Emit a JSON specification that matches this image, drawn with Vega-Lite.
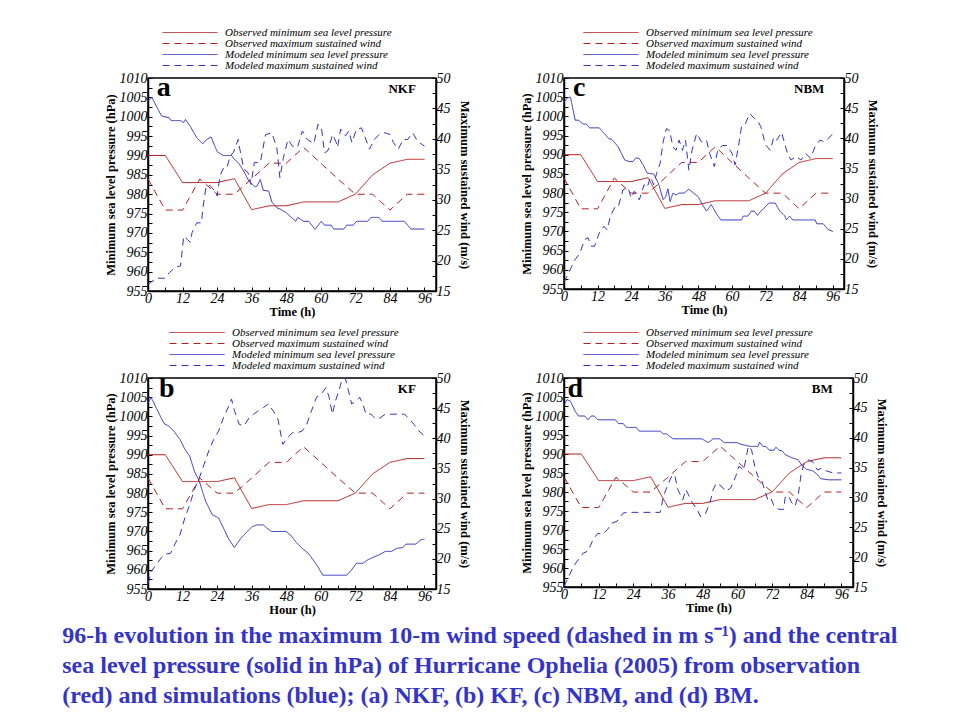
{
"$schema":"https://vega.github.io/schema/vega-lite/v6.json",
"background":"white",
"padding":{"left":62,"top":25,"right":5,"bottom":5},
"title":{"text":["96-h evolution in the maximum 10-m wind speed (dashed in m s⁻¹) and the central","sea level pressure (solid in hPa) of Hurricane Ophelia (2005) from observation","(red) and simulations (blue); (a) NKF, (b) KF, (c) NBM, and (d) BM."],"orient":"bottom","anchor":"start","frame":"bounds","dx":-41,"offset":8,"font":"Liberation Serif","fontSize":24,"fontWeight":"bold","color":"#3434c8","lineHeight":30,"baseline":"top"},
"datasets":{"all":[
{"p":"o","s":"OP","t":0,"v":990},{"p":"o","s":"OP","t":6,"v":990},{"p":"o","s":"OP","t":12,"v":983},{"p":"o","s":"OP","t":18,"v":983},{"p":"o","s":"OP","t":24,"v":983},{"p":"o","s":"OP","t":30,"v":984},{"p":"o","s":"OP","t":36,"v":976},{"p":"o","s":"OP","t":42,"v":977},{"p":"o","s":"OP","t":48,"v":977},{"p":"o","s":"OP","t":54,"v":978},{"p":"o","s":"OP","t":60,"v":978},{"p":"o","s":"OP","t":66,"v":978},{"p":"o","s":"OP","t":72,"v":980},{"p":"o","s":"OP","t":78,"v":985},{"p":"o","s":"OP","t":84,"v":988},{"p":"o","s":"OP","t":90,"v":989},{"p":"o","s":"OP","t":96,"v":989},
{"p":"o","s":"OW","t":0,"v":33.4},{"p":"o","s":"OW","t":6,"v":28.3},{"p":"o","s":"OW","t":12,"v":28.3},{"p":"o","s":"OW","t":18,"v":33.4},{"p":"o","s":"OW","t":24,"v":30.9},{"p":"o","s":"OW","t":30,"v":30.9},{"p":"o","s":"OW","t":36,"v":33.4},{"p":"o","s":"OW","t":42,"v":36},{"p":"o","s":"OW","t":48,"v":36},{"p":"o","s":"OW","t":54,"v":38.6},{"p":"o","s":"OW","t":60,"v":36},{"p":"o","s":"OW","t":66,"v":33.4},{"p":"o","s":"OW","t":72,"v":30.9},{"p":"o","s":"OW","t":78,"v":30.9},{"p":"o","s":"OW","t":84,"v":28.3},{"p":"o","s":"OW","t":90,"v":30.9},{"p":"o","s":"OW","t":96,"v":30.9},
{"p":"a","s":"MP","t":0,"v":1004},{"p":"a","s":"MP","t":1.3,"v":1005},{"p":"a","s":"MP","t":4.7,"v":1000.2},{"p":"a","s":"MP","t":7.4,"v":999.7},{"p":"a","s":"MP","t":8,"v":999},{"p":"a","s":"MP","t":11.3,"v":999},{"p":"a","s":"MP","t":12.4,"v":998.5},{"p":"a","s":"MP","t":13,"v":999.3},{"p":"a","s":"MP","t":14.7,"v":997.5},{"p":"a","s":"MP","t":16.9,"v":994.6},{"p":"a","s":"MP","t":19,"v":993},{"p":"a","s":"MP","t":20.2,"v":994},{"p":"a","s":"MP","t":21.9,"v":994.8},{"p":"a","s":"MP","t":24,"v":991},{"p":"a","s":"MP","t":26,"v":990},{"p":"a","s":"MP","t":29,"v":990},{"p":"a","s":"MP","t":30,"v":989},{"p":"a","s":"MP","t":31.5,"v":988},{"p":"a","s":"MP","t":33.6,"v":985.5},{"p":"a","s":"MP","t":35,"v":983.4},{"p":"a","s":"MP","t":37,"v":982},{"p":"a","s":"MP","t":37.8,"v":982},{"p":"a","s":"MP","t":39,"v":983.8},{"p":"a","s":"MP","t":40,"v":981},{"p":"a","s":"MP","t":41.9,"v":980.8},{"p":"a","s":"MP","t":43,"v":978},{"p":"a","s":"MP","t":44.7,"v":976.5},{"p":"a","s":"MP","t":46.3,"v":976},{"p":"a","s":"MP","t":48,"v":975.2},{"p":"a","s":"MP","t":51.3,"v":973},{"p":"a","s":"MP","t":52,"v":974},{"p":"a","s":"MP","t":54,"v":973},{"p":"a","s":"MP","t":55.8,"v":973},{"p":"a","s":"MP","t":58,"v":970.9},{"p":"a","s":"MP","t":60.2,"v":973},{"p":"a","s":"MP","t":61.3,"v":972},{"p":"a","s":"MP","t":63.6,"v":972},{"p":"a","s":"MP","t":64.5,"v":971},{"p":"a","s":"MP","t":68,"v":971},{"p":"a","s":"MP","t":69,"v":972},{"p":"a","s":"MP","t":71.3,"v":972},{"p":"a","s":"MP","t":72.4,"v":973},{"p":"a","s":"MP","t":76.3,"v":973},{"p":"a","s":"MP","t":77.4,"v":974},{"p":"a","s":"MP","t":80.2,"v":974},{"p":"a","s":"MP","t":81.3,"v":973},{"p":"a","s":"MP","t":89,"v":973},{"p":"a","s":"MP","t":91.3,"v":971},{"p":"a","s":"MP","t":96,"v":971},
{"p":"a","s":"MW","t":0,"v":16.1},{"p":"a","s":"MW","t":3,"v":17.1},{"p":"a","s":"MW","t":5.8,"v":17.1},{"p":"a","s":"MW","t":7.4,"v":18},{"p":"a","s":"MW","t":9.7,"v":19},{"p":"a","s":"MW","t":11.3,"v":19.1},{"p":"a","s":"MW","t":12.4,"v":24},{"p":"a","s":"MW","t":13.6,"v":23.5},{"p":"a","s":"MW","t":14.7,"v":23},{"p":"a","s":"MW","t":15.3,"v":24.6},{"p":"a","s":"MW","t":16.9,"v":26.2},{"p":"a","s":"MW","t":18.6,"v":26.2},{"p":"a","s":"MW","t":19,"v":28.4},{"p":"a","s":"MW","t":20.2,"v":32.3},{"p":"a","s":"MW","t":21.6,"v":32.3},{"p":"a","s":"MW","t":23.6,"v":31.2},{"p":"a","s":"MW","t":24,"v":30.6},{"p":"a","s":"MW","t":25,"v":33.9},{"p":"a","s":"MW","t":26.3,"v":35.3},{"p":"a","s":"MW","t":27.4,"v":35.3},{"p":"a","s":"MW","t":28.6,"v":37.2},{"p":"a","s":"MW","t":29.7,"v":37.8},{"p":"a","s":"MW","t":31.3,"v":39.9},{"p":"a","s":"MW","t":31.9,"v":38.3},{"p":"a","s":"MW","t":33.3,"v":35},{"p":"a","s":"MW","t":34.7,"v":34.5},{"p":"a","s":"MW","t":35.8,"v":32.5},{"p":"a","s":"MW","t":36.9,"v":36.1},{"p":"a","s":"MW","t":39,"v":36.1},{"p":"a","s":"MW","t":40.8,"v":40.7},{"p":"a","s":"MW","t":43,"v":41},{"p":"a","s":"MW","t":44.7,"v":38.6},{"p":"a","s":"MW","t":45.8,"v":33.6},{"p":"a","s":"MW","t":47,"v":36.9},{"p":"a","s":"MW","t":48.6,"v":39.9},{"p":"a","s":"MW","t":50.2,"v":38.8},{"p":"a","s":"MW","t":51.9,"v":38.6},{"p":"a","s":"MW","t":53.6,"v":41.3},{"p":"a","s":"MW","t":55.3,"v":39.9},{"p":"a","s":"MW","t":57.6,"v":39.2},{"p":"a","s":"MW","t":59,"v":42.4},{"p":"a","s":"MW","t":60.2,"v":41.9},{"p":"a","s":"MW","t":61.3,"v":37.7},{"p":"a","s":"MW","t":62.4,"v":38},{"p":"a","s":"MW","t":64.1,"v":40.7},{"p":"a","s":"MW","t":65.2,"v":39.6},{"p":"a","s":"MW","t":65.8,"v":38.6},{"p":"a","s":"MW","t":66.9,"v":41.6},{"p":"a","s":"MW","t":68.6,"v":40.5},{"p":"a","s":"MW","t":69.7,"v":41.3},{"p":"a","s":"MW","t":70.8,"v":39.4},{"p":"a","s":"MW","t":72.4,"v":41.6},{"p":"a","s":"MW","t":74.1,"v":41.8},{"p":"a","s":"MW","t":75.2,"v":40.5},{"p":"a","s":"MW","t":76.9,"v":38.3},{"p":"a","s":"MW","t":78.6,"v":39.9},{"p":"a","s":"MW","t":80.2,"v":40.7},{"p":"a","s":"MW","t":82.4,"v":41},{"p":"a","s":"MW","t":84.1,"v":40.7},{"p":"a","s":"MW","t":85.2,"v":39.4},{"p":"a","s":"MW","t":86.9,"v":38.3},{"p":"a","s":"MW","t":88.6,"v":39.9},{"p":"a","s":"MW","t":90.2,"v":39.9},{"p":"a","s":"MW","t":91.9,"v":41},{"p":"a","s":"MW","t":93.6,"v":39.6},{"p":"a","s":"MW","t":96,"v":38.8},
{"p":"c","s":"MP","t":0,"v":1003.7},{"p":"c","s":"MP","t":1.1,"v":1004.8},{"p":"c","s":"MP","t":2.3,"v":1005},{"p":"c","s":"MP","t":4,"v":999},{"p":"c","s":"MP","t":5.1,"v":999},{"p":"c","s":"MP","t":6.9,"v":998},{"p":"c","s":"MP","t":8,"v":998},{"p":"c","s":"MP","t":9.1,"v":997},{"p":"c","s":"MP","t":12.6,"v":997},{"p":"c","s":"MP","t":16,"v":994.2},{"p":"c","s":"MP","t":17.1,"v":994},{"p":"c","s":"MP","t":19.4,"v":992},{"p":"c","s":"MP","t":21.7,"v":988.6},{"p":"c","s":"MP","t":23.4,"v":988.2},{"p":"c","s":"MP","t":24.6,"v":988.2},{"p":"c","s":"MP","t":25.7,"v":989.2},{"p":"c","s":"MP","t":26.9,"v":989},{"p":"c","s":"MP","t":28.6,"v":986.9},{"p":"c","s":"MP","t":29.7,"v":985.2},{"p":"c","s":"MP","t":32,"v":985},{"p":"c","s":"MP","t":33.7,"v":982.6},{"p":"c","s":"MP","t":35.4,"v":978.3},{"p":"c","s":"MP","t":36.3,"v":979},{"p":"c","s":"MP","t":37.1,"v":981.1},{"p":"c","s":"MP","t":37.9,"v":977.8},{"p":"c","s":"MP","t":38.9,"v":980},{"p":"c","s":"MP","t":40,"v":979.5},{"p":"c","s":"MP","t":41.1,"v":980},{"p":"c","s":"MP","t":42.9,"v":980},{"p":"c","s":"MP","t":44.6,"v":981},{"p":"c","s":"MP","t":46.3,"v":980},{"p":"c","s":"MP","t":48,"v":979},{"p":"c","s":"MP","t":49.1,"v":977.4},{"p":"c","s":"MP","t":50.9,"v":975.3},{"p":"c","s":"MP","t":52.6,"v":977},{"p":"c","s":"MP","t":54.3,"v":974.8},{"p":"c","s":"MP","t":56,"v":973},{"p":"c","s":"MP","t":63.4,"v":973},{"p":"c","s":"MP","t":64,"v":974},{"p":"c","s":"MP","t":65.7,"v":974},{"p":"c","s":"MP","t":66.9,"v":975.3},{"p":"c","s":"MP","t":68,"v":975.3},{"p":"c","s":"MP","t":69.1,"v":974.2},{"p":"c","s":"MP","t":70.3,"v":975.3},{"p":"c","s":"MP","t":71.4,"v":976},{"p":"c","s":"MP","t":73.1,"v":977.4},{"p":"c","s":"MP","t":75.4,"v":977.4},{"p":"c","s":"MP","t":77.1,"v":975.3},{"p":"c","s":"MP","t":78.9,"v":974},{"p":"c","s":"MP","t":79.4,"v":973},{"p":"c","s":"MP","t":80.6,"v":974},{"p":"c","s":"MP","t":81.7,"v":973},{"p":"c","s":"MP","t":89.7,"v":973},{"p":"c","s":"MP","t":90.3,"v":972},{"p":"c","s":"MP","t":92.6,"v":972},{"p":"c","s":"MP","t":94.3,"v":970.5},{"p":"c","s":"MP","t":96,"v":970},
{"p":"c","s":"MW","t":0,"v":16.1},{"p":"c","s":"MW","t":2.3,"v":18.3},{"p":"c","s":"MW","t":4,"v":19.9},{"p":"c","s":"MW","t":5.7,"v":21},{"p":"c","s":"MW","t":7.4,"v":23.2},{"p":"c","s":"MW","t":8.6,"v":23.5},{"p":"c","s":"MW","t":9.7,"v":22.1},{"p":"c","s":"MW","t":10.9,"v":22.1},{"p":"c","s":"MW","t":12.6,"v":24.3},{"p":"c","s":"MW","t":14.3,"v":25.4},{"p":"c","s":"MW","t":15.4,"v":24.8},{"p":"c","s":"MW","t":16.6,"v":27.1},{"p":"c","s":"MW","t":18.3,"v":28.7},{"p":"c","s":"MW","t":19.4,"v":28.7},{"p":"c","s":"MW","t":21.1,"v":31.5},{"p":"c","s":"MW","t":22.9,"v":31.8},{"p":"c","s":"MW","t":24,"v":30.1},{"p":"c","s":"MW","t":25.1,"v":31.2},{"p":"c","s":"MW","t":26.9,"v":29.8},{"p":"c","s":"MW","t":28.6,"v":32.3},{"p":"c","s":"MW","t":29.7,"v":31.8},{"p":"c","s":"MW","t":30.9,"v":33.6},{"p":"c","s":"MW","t":32,"v":32.3},{"p":"c","s":"MW","t":33.1,"v":34.2},{"p":"c","s":"MW","t":34.3,"v":35.8},{"p":"c","s":"MW","t":35.4,"v":39.4},{"p":"c","s":"MW","t":36.6,"v":41.6},{"p":"c","s":"MW","t":37.7,"v":41.3},{"p":"c","s":"MW","t":38.9,"v":38.6},{"p":"c","s":"MW","t":40,"v":38},{"p":"c","s":"MW","t":41.1,"v":39.7},{"p":"c","s":"MW","t":42.3,"v":38},{"p":"c","s":"MW","t":43.4,"v":39.7},{"p":"c","s":"MW","t":44.6,"v":34.7},{"p":"c","s":"MW","t":45.7,"v":38},{"p":"c","s":"MW","t":47.4,"v":40.8},{"p":"c","s":"MW","t":49.1,"v":39.4},{"p":"c","s":"MW","t":50.9,"v":39.7},{"p":"c","s":"MW","t":52,"v":37.5},{"p":"c","s":"MW","t":53.7,"v":35.3},{"p":"c","s":"MW","t":54.9,"v":38},{"p":"c","s":"MW","t":56.6,"v":38.8},{"p":"c","s":"MW","t":58.3,"v":38.8},{"p":"c","s":"MW","t":60,"v":37.5},{"p":"c","s":"MW","t":61.1,"v":35.6},{"p":"c","s":"MW","t":62.3,"v":38.6},{"p":"c","s":"MW","t":63.4,"v":41.9},{"p":"c","s":"MW","t":64.6,"v":42.2},{"p":"c","s":"MW","t":66.3,"v":44.1},{"p":"c","s":"MW","t":68,"v":43.3},{"p":"c","s":"MW","t":69.1,"v":43},{"p":"c","s":"MW","t":70.3,"v":41.9},{"p":"c","s":"MW","t":72,"v":38.9},{"p":"c","s":"MW","t":73.7,"v":38},{"p":"c","s":"MW","t":74.9,"v":40.2},{"p":"c","s":"MW","t":76,"v":39.7},{"p":"c","s":"MW","t":77.7,"v":41},{"p":"c","s":"MW","t":78.9,"v":39},{"p":"c","s":"MW","t":80,"v":37.2},{"p":"c","s":"MW","t":81.1,"v":36.4},{"p":"c","s":"MW","t":82.9,"v":37},{"p":"c","s":"MW","t":84.6,"v":36.4},{"p":"c","s":"MW","t":86.3,"v":37.5},{"p":"c","s":"MW","t":88,"v":36.7},{"p":"c","s":"MW","t":89.7,"v":38.6},{"p":"c","s":"MW","t":91.4,"v":39.7},{"p":"c","s":"MW","t":93.1,"v":39.4},{"p":"c","s":"MW","t":94.9,"v":40.2},{"p":"c","s":"MW","t":96,"v":40.8},
{"p":"b","s":"MP","t":0,"v":1003.6},{"p":"b","s":"MP","t":1.1,"v":1004.9},{"p":"b","s":"MP","t":2.8,"v":1002.3},{"p":"b","s":"MP","t":4.5,"v":999.7},{"p":"b","s":"MP","t":5.6,"v":998.1},{"p":"b","s":"MP","t":7.2,"v":997.5},{"p":"b","s":"MP","t":8.9,"v":996.2},{"p":"b","s":"MP","t":11.1,"v":994},{"p":"b","s":"MP","t":12.8,"v":991.4},{"p":"b","s":"MP","t":14.5,"v":989.6},{"p":"b","s":"MP","t":16.1,"v":985.7},{"p":"b","s":"MP","t":17.8,"v":983.1},{"p":"b","s":"MP","t":20,"v":977.9},{"p":"b","s":"MP","t":22.3,"v":974.4},{"p":"b","s":"MP","t":24.5,"v":973.5},{"p":"b","s":"MP","t":26.2,"v":970.9},{"p":"b","s":"MP","t":27.8,"v":968.3},{"p":"b","s":"MP","t":30,"v":965.8},{"p":"b","s":"MP","t":32.3,"v":968.3},{"p":"b","s":"MP","t":34.5,"v":970},{"p":"b","s":"MP","t":36.2,"v":971.3},{"p":"b","s":"MP","t":37.9,"v":971.7},{"p":"b","s":"MP","t":40.1,"v":971.7},{"p":"b","s":"MP","t":41.2,"v":970.9},{"p":"b","s":"MP","t":42.9,"v":970},{"p":"b","s":"MP","t":47.9,"v":970},{"p":"b","s":"MP","t":49.6,"v":969},{"p":"b","s":"MP","t":51.2,"v":967.4},{"p":"b","s":"MP","t":53.5,"v":965.6},{"p":"b","s":"MP","t":55.7,"v":964.3},{"p":"b","s":"MP","t":57.3,"v":962.6},{"p":"b","s":"MP","t":59,"v":960.8},{"p":"b","s":"MP","t":60.7,"v":958.6},{"p":"b","s":"MP","t":69,"v":958.6},{"p":"b","s":"MP","t":70.7,"v":960},{"p":"b","s":"MP","t":72.4,"v":961.7},{"p":"b","s":"MP","t":74.6,"v":961.7},{"p":"b","s":"MP","t":76.3,"v":962.6},{"p":"b","s":"MP","t":78,"v":963.2},{"p":"b","s":"MP","t":80.2,"v":963.9},{"p":"b","s":"MP","t":82.4,"v":964.8},{"p":"b","s":"MP","t":84.6,"v":964.8},{"p":"b","s":"MP","t":86.3,"v":965.6},{"p":"b","s":"MP","t":88.5,"v":965.8},{"p":"b","s":"MP","t":89.6,"v":966.7},{"p":"b","s":"MP","t":93,"v":966.7},{"p":"b","s":"MP","t":94.7,"v":967.8},{"p":"b","s":"MP","t":96,"v":968},
{"p":"b","s":"MW","t":0,"v":15.9},{"p":"b","s":"MW","t":1.1,"v":17.9},{"p":"b","s":"MW","t":2.8,"v":19},{"p":"b","s":"MW","t":4.5,"v":20.1},{"p":"b","s":"MW","t":6.1,"v":20.8},{"p":"b","s":"MW","t":7.8,"v":20.9},{"p":"b","s":"MW","t":9.5,"v":22.6},{"p":"b","s":"MW","t":11.1,"v":24},{"p":"b","s":"MW","t":12.8,"v":26.8},{"p":"b","s":"MW","t":14.5,"v":29},{"p":"b","s":"MW","t":16.1,"v":31.5},{"p":"b","s":"MW","t":17.8,"v":33.4},{"p":"b","s":"MW","t":19.5,"v":35.7},{"p":"b","s":"MW","t":21.1,"v":37.9},{"p":"b","s":"MW","t":22.8,"v":39.8},{"p":"b","s":"MW","t":24.5,"v":41.2},{"p":"b","s":"MW","t":26.2,"v":43.4},{"p":"b","s":"MW","t":27.8,"v":45.1},{"p":"b","s":"MW","t":29,"v":46.5},{"p":"b","s":"MW","t":30,"v":44.6},{"p":"b","s":"MW","t":31.7,"v":42.3},{"p":"b","s":"MW","t":33.4,"v":42.1},{"p":"b","s":"MW","t":35.1,"v":43.4},{"p":"b","s":"MW","t":36.7,"v":44},{"p":"b","s":"MW","t":38.4,"v":44.6},{"p":"b","s":"MW","t":40.1,"v":45.1},{"p":"b","s":"MW","t":41.8,"v":45.7},{"p":"b","s":"MW","t":43.4,"v":44.6},{"p":"b","s":"MW","t":45.1,"v":43.2},{"p":"b","s":"MW","t":46.8,"v":39},{"p":"b","s":"MW","t":48.4,"v":40.1},{"p":"b","s":"MW","t":50.1,"v":40.9},{"p":"b","s":"MW","t":51.8,"v":40.9},{"p":"b","s":"MW","t":53.5,"v":41.2},{"p":"b","s":"MW","t":55.1,"v":42.3},{"p":"b","s":"MW","t":56.8,"v":44.6},{"p":"b","s":"MW","t":58.5,"v":46.8},{"p":"b","s":"MW","t":60.1,"v":47.3},{"p":"b","s":"MW","t":61.8,"v":48.4},{"p":"b","s":"MW","t":62.9,"v":46.8},{"p":"b","s":"MW","t":64,"v":44},{"p":"b","s":"MW","t":65.1,"v":46.2},{"p":"b","s":"MW","t":66.3,"v":47.9},{"p":"b","s":"MW","t":67.4,"v":49.8},{"p":"b","s":"MW","t":68.5,"v":50},{"p":"b","s":"MW","t":69.6,"v":47.9},{"p":"b","s":"MW","t":70.7,"v":45.7},{"p":"b","s":"MW","t":72.4,"v":46.2},{"p":"b","s":"MW","t":73.5,"v":46.8},{"p":"b","s":"MW","t":74.6,"v":45.7},{"p":"b","s":"MW","t":75.7,"v":44},{"p":"b","s":"MW","t":77.4,"v":44},{"p":"b","s":"MW","t":79.1,"v":43.2},{"p":"b","s":"MW","t":80.7,"v":43.4},{"p":"b","s":"MW","t":82.4,"v":44},{"p":"b","s":"MW","t":84.1,"v":44},{"p":"b","s":"MW","t":89.1,"v":44},{"p":"b","s":"MW","t":90.7,"v":43.2},{"p":"b","s":"MW","t":92.4,"v":42.3},{"p":"b","s":"MW","t":94.1,"v":41.2},{"p":"b","s":"MW","t":96,"v":40.4},
{"p":"d","s":"MP","t":0,"v":1003},{"p":"d","s":"MP","t":1.1,"v":1004.3},{"p":"d","s":"MP","t":2.2,"v":1003.9},{"p":"d","s":"MP","t":3.9,"v":1001.2},{"p":"d","s":"MP","t":5,"v":1000},{"p":"d","s":"MP","t":7.2,"v":1000},{"p":"d","s":"MP","t":8.3,"v":999},{"p":"d","s":"MP","t":9.4,"v":1000},{"p":"d","s":"MP","t":10.5,"v":1000},{"p":"d","s":"MP","t":11.7,"v":999},{"p":"d","s":"MP","t":17.8,"v":999},{"p":"d","s":"MP","t":18.9,"v":998},{"p":"d","s":"MP","t":20.5,"v":998},{"p":"d","s":"MP","t":21.6,"v":997},{"p":"d","s":"MP","t":25,"v":997},{"p":"d","s":"MP","t":26.1,"v":996},{"p":"d","s":"MP","t":33.3,"v":996},{"p":"d","s":"MP","t":34.4,"v":995.3},{"p":"d","s":"MP","t":35.5,"v":995.3},{"p":"d","s":"MP","t":37.7,"v":994},{"p":"d","s":"MP","t":47.7,"v":994},{"p":"d","s":"MP","t":49.9,"v":993},{"p":"d","s":"MP","t":51.6,"v":994},{"p":"d","s":"MP","t":53.8,"v":994},{"p":"d","s":"MP","t":55.5,"v":993},{"p":"d","s":"MP","t":59.9,"v":993},{"p":"d","s":"MP","t":61,"v":992.6},{"p":"d","s":"MP","t":64.4,"v":992},{"p":"d","s":"MP","t":67.1,"v":992},{"p":"d","s":"MP","t":67.7,"v":993.1},{"p":"d","s":"MP","t":68.8,"v":992},{"p":"d","s":"MP","t":69.9,"v":992},{"p":"d","s":"MP","t":71,"v":991},{"p":"d","s":"MP","t":72.7,"v":991},{"p":"d","s":"MP","t":73.3,"v":991.8},{"p":"d","s":"MP","t":74.4,"v":991},{"p":"d","s":"MP","t":75.5,"v":990.8},{"p":"d","s":"MP","t":76.6,"v":989.8},{"p":"d","s":"MP","t":78.8,"v":989},{"p":"d","s":"MP","t":81,"v":988.5},{"p":"d","s":"MP","t":82.1,"v":987.2},{"p":"d","s":"MP","t":83.8,"v":986},{"p":"d","s":"MP","t":86,"v":985.6},{"p":"d","s":"MP","t":87.7,"v":984.6},{"p":"d","s":"MP","t":88.8,"v":983.5},{"p":"d","s":"MP","t":91.6,"v":983.2},{"p":"d","s":"MP","t":96,"v":983.2},
{"p":"d","s":"MW","t":0,"v":15.1},{"p":"d","s":"MW","t":1.7,"v":16.8},{"p":"d","s":"MW","t":3.3,"v":18.5},{"p":"d","s":"MW","t":5,"v":19.6},{"p":"d","s":"MW","t":6.7,"v":20.7},{"p":"d","s":"MW","t":8.3,"v":21},{"p":"d","s":"MW","t":10,"v":22.9},{"p":"d","s":"MW","t":11.7,"v":24},{"p":"d","s":"MW","t":13.3,"v":23.8},{"p":"d","s":"MW","t":15,"v":24.6},{"p":"d","s":"MW","t":16.6,"v":25.7},{"p":"d","s":"MW","t":18.3,"v":26},{"p":"d","s":"MW","t":20.5,"v":27.4},{"p":"d","s":"MW","t":22.2,"v":27.5},{"p":"d","s":"MW","t":33.3,"v":27.5},{"p":"d","s":"MW","t":34.4,"v":30.2},{"p":"d","s":"MW","t":35.5,"v":31.6},{"p":"d","s":"MW","t":37.2,"v":33.5},{"p":"d","s":"MW","t":38.3,"v":33.8},{"p":"d","s":"MW","t":39.4,"v":31.3},{"p":"d","s":"MW","t":41.1,"v":29.6},{"p":"d","s":"MW","t":42.2,"v":31.3},{"p":"d","s":"MW","t":43.3,"v":30.2},{"p":"d","s":"MW","t":44.4,"v":29.1},{"p":"d","s":"MW","t":46.1,"v":28},{"p":"d","s":"MW","t":47.2,"v":26.8},{"p":"d","s":"MW","t":48.8,"v":27.1},{"p":"d","s":"MW","t":50.5,"v":29.1},{"p":"d","s":"MW","t":51.6,"v":31.3},{"p":"d","s":"MW","t":52.7,"v":32.4},{"p":"d","s":"MW","t":54.4,"v":31.9},{"p":"d","s":"MW","t":56,"v":31},{"p":"d","s":"MW","t":57.7,"v":31.6},{"p":"d","s":"MW","t":59.4,"v":33.5},{"p":"d","s":"MW","t":60.5,"v":35.2},{"p":"d","s":"MW","t":62.2,"v":34.6},{"p":"d","s":"MW","t":63.8,"v":38.6},{"p":"d","s":"MW","t":64.9,"v":38},{"p":"d","s":"MW","t":66,"v":35.2},{"p":"d","s":"MW","t":67.1,"v":33.5},{"p":"d","s":"MW","t":68.3,"v":33},{"p":"d","s":"MW","t":69.4,"v":31.3},{"p":"d","s":"MW","t":70.5,"v":29.6},{"p":"d","s":"MW","t":71.6,"v":29.9},{"p":"d","s":"MW","t":72.7,"v":28.5},{"p":"d","s":"MW","t":74.4,"v":28},{"p":"d","s":"MW","t":76,"v":28},{"p":"d","s":"MW","t":76.6,"v":30.2},{"p":"d","s":"MW","t":77.7,"v":30.2},{"p":"d","s":"MW","t":78.8,"v":29.1},{"p":"d","s":"MW","t":79.9,"v":28.5},{"p":"d","s":"MW","t":81,"v":30.2},{"p":"d","s":"MW","t":82.1,"v":34.1},{"p":"d","s":"MW","t":83.2,"v":35.8},{"p":"d","s":"MW","t":84.4,"v":36.3},{"p":"d","s":"MW","t":86,"v":36},{"p":"d","s":"MW","t":87.7,"v":34.6},{"p":"d","s":"MW","t":89.3,"v":34.9},{"p":"d","s":"MW","t":91,"v":34.4},{"p":"d","s":"MW","t":93.2,"v":34.1},{"p":"d","s":"MW","t":96,"v":34.1}
]},
"columns":2,
"spacing":{"column":48,"row":6},
"resolve":{"scale":{"color":"independent","strokeDash":"independent","x":"independent","y":"independent"},"legend":{"color":"independent","strokeDash":"independent"}},
"concat":[
{"width":288,"height":213,"data":{"name":"all"},
 "layer":[
  {"layer":[
    {"transform":[{"filter":"(datum.p=='a'||datum.p=='o')&&(datum.s=='OP'||datum.s=='MP')"}],
     "mark":{"type":"line","strokeWidth":1},
     "encoding":{
      "x":{"field":"t","type":"quantitative","scale":{"domain":[0,96]},"axis":{"title":"Time (h)","values":[0,6,12,18,24,30,36,42,48,54,60,66,72,78,84,90,96],"labelExpr":"datum.value % 12 == 0 ? datum.label : ''","labelOverlap":false}},
      "y":{"field":"v","type":"quantitative","scale":{"domain":[955,1010]},"axis":{"orient":"left","title":"Minimum sea level pressure (hPa)","format":"d","labelOverlap":false,"values":[955,957.5,960,962.5,965,967.5,970,972.5,975,977.5,980,982.5,985,987.5,990,992.5,995,997.5,1000,1002.5,1005,1007.5,1010],"labelExpr":"datum.value % 5 == 0 ? datum.label : ''"}},
      "color":{"field":"s","type":"nominal","scale":{"domain":["OP","OW","MP","MW"],"range":["#b41e1e","#b41e1e","#3232c0","#3232c0"]},"legend":{"title":null,"legendX":36,"labelExpr":"{'OP':'Observed minimum sea level pressure','OW':'Observed maximum sustained wind','MP':'Modeled minimum sea level pressure','MW':'Modeled maximum sustained wind'}[datum.value]","encode":{"symbols":{"update":{"stroke":{"signal":"(datum.value=='OP'||datum.value=='OW')?'#b41e1e':'#3232c0'"},"strokeDash":{"signal":"(datum.value=='OW'||datum.value=='MW')?[7,5]:[1,0]"}}}}}},
      "strokeDash":{"field":"s","type":"nominal","scale":{"domain":["OP","OW","MP","MW"],"range":[[1,0],[7,5],[1,0],[7,5]]},"legend":null}}},
    {"data":{"values":[{"lab":"a"}]},"mark":{"type":"text","font":"Liberation Serif","fontSize":28,"fontWeight":"bold","align":"left","baseline":"alphabetic","color":"black"},"encoding":{"x":{"datum":3,"type":"quantitative","axis":{"title":"Time (h)","values":[0,6,12,18,24,30,36,42,48,54,60,66,72,78,84,90,96],"labelExpr":"datum.value % 12 == 0 ? datum.label : ''","labelOverlap":false}},"y":{"datum":1005.3,"type":"quantitative","axis":{"orient":"left","title":"Minimum sea level pressure (hPa)","format":"d","labelOverlap":false,"values":[955,957.5,960,962.5,965,967.5,970,972.5,975,977.5,980,982.5,985,987.5,990,992.5,995,997.5,1000,1002.5,1005,1007.5,1010],"labelExpr":"datum.value % 5 == 0 ? datum.label : ''"}},"text":{"field":"lab"}}},
    {"data":{"values":[{"lab":"NKF"}]},"mark":{"type":"text","font":"Liberation Serif","fontSize":13,"fontWeight":"bold","align":"right","baseline":"alphabetic","color":"black"},"encoding":{"x":{"datum":93,"type":"quantitative","axis":{"title":"Time (h)","values":[0,6,12,18,24,30,36,42,48,54,60,66,72,78,84,90,96],"labelExpr":"datum.value % 12 == 0 ? datum.label : ''","labelOverlap":false}},"y":{"datum":1006.1,"type":"quantitative","axis":{"orient":"left","title":"Minimum sea level pressure (hPa)","format":"d","labelOverlap":false,"values":[955,957.5,960,962.5,965,967.5,970,972.5,975,977.5,980,982.5,985,987.5,990,992.5,995,997.5,1000,1002.5,1005,1007.5,1010],"labelExpr":"datum.value % 5 == 0 ? datum.label : ''"}},"text":{"field":"lab"}}}
  ]},
  {"transform":[{"filter":"(datum.p=='a'||datum.p=='o')&&(datum.s=='OW'||datum.s=='MW')"}],
   "mark":{"type":"line","strokeWidth":1},
   "encoding":{
    "x":{"field":"t","type":"quantitative","scale":{"domain":[0,96]},"axis":{"title":"Time (h)","values":[0,6,12,18,24,30,36,42,48,54,60,66,72,78,84,90,96],"labelExpr":"datum.value % 12 == 0 ? datum.label : ''","labelOverlap":false}},
    "y":{"field":"v","type":"quantitative","scale":{"domain":[15,50]},"axis":{"orient":"right","title":"Maximum sustained wind (m/s)","labelOverlap":false,"values":[15,17.5,20,22.5,25,27.5,30,32.5,35,37.5,40,42.5,45,47.5,50],"labelExpr":"datum.value % 5 == 0 ? datum.label : ''"}},
    "color":{"field":"s","type":"nominal","scale":{"domain":["OP","OW","MP","MW"],"range":["#b41e1e","#b41e1e","#3232c0","#3232c0"]},"legend":{"title":null,"legendX":36,"labelExpr":"{'OP':'Observed minimum sea level pressure','OW':'Observed maximum sustained wind','MP':'Modeled minimum sea level pressure','MW':'Modeled maximum sustained wind'}[datum.value]","encode":{"symbols":{"update":{"stroke":{"signal":"(datum.value=='OP'||datum.value=='OW')?'#b41e1e':'#3232c0'"},"strokeDash":{"signal":"(datum.value=='OW'||datum.value=='MW')?[7,5]:[1,0]"}}}}}},
    "strokeDash":{"field":"s","type":"nominal","scale":{"domain":["OP","OW","MP","MW"],"range":[[1,0],[7,5],[1,0],[7,5]]},"legend":null}}}
 ],
 "resolve":{"scale":{"y":"independent"}}},
{"width":280,"height":211,"data":{"name":"all"},
 "layer":[
  {"layer":[
    {"transform":[{"filter":"(datum.p=='c'||datum.p=='o')&&(datum.s=='OP'||datum.s=='MP')"}],
     "mark":{"type":"line","strokeWidth":1},
     "encoding":{
      "x":{"field":"t","type":"quantitative","scale":{"domain":[0,96]},"axis":{"title":"Time (h)","values":[0,6,12,18,24,30,36,42,48,54,60,66,72,78,84,90,96],"labelExpr":"datum.value % 12 == 0 ? datum.label : ''","labelOverlap":false}},
      "y":{"field":"v","type":"quantitative","scale":{"domain":[955,1010]},"axis":{"orient":"left","title":"Minimum sea level pressure (hPa)","format":"d","labelOverlap":false,"values":[955,957.5,960,962.5,965,967.5,970,972.5,975,977.5,980,982.5,985,987.5,990,992.5,995,997.5,1000,1002.5,1005,1007.5,1010],"labelExpr":"datum.value % 5 == 0 ? datum.label : ''"}},
      "color":{"field":"s","type":"nominal","scale":{"domain":["OP","OW","MP","MW"],"range":["#b41e1e","#b41e1e","#3232c0","#3232c0"]},"legend":{"title":null,"legendX":41,"labelExpr":"{'OP':'Observed minimum sea level pressure','OW':'Observed maximum sustained wind','MP':'Modeled minimum sea level pressure','MW':'Modeled maximum sustained wind'}[datum.value]","encode":{"symbols":{"update":{"stroke":{"signal":"(datum.value=='OP'||datum.value=='OW')?'#b41e1e':'#3232c0'"},"strokeDash":{"signal":"(datum.value=='OW'||datum.value=='MW')?[7,5]:[1,0]"}}}}}},
      "strokeDash":{"field":"s","type":"nominal","scale":{"domain":["OP","OW","MP","MW"],"range":[[1,0],[7,5],[1,0],[7,5]]},"legend":null}}},
    {"data":{"values":[{"lab":"c"}]},"mark":{"type":"text","font":"Liberation Serif","fontSize":28,"fontWeight":"bold","align":"left","baseline":"alphabetic","color":"black"},"encoding":{"x":{"datum":3.2,"type":"quantitative","axis":{"title":"Time (h)","values":[0,6,12,18,24,30,36,42,48,54,60,66,72,78,84,90,96],"labelExpr":"datum.value % 12 == 0 ? datum.label : ''","labelOverlap":false}},"y":{"datum":1005.3,"type":"quantitative","axis":{"orient":"left","title":"Minimum sea level pressure (hPa)","format":"d","labelOverlap":false,"values":[955,957.5,960,962.5,965,967.5,970,972.5,975,977.5,980,982.5,985,987.5,990,992.5,995,997.5,1000,1002.5,1005,1007.5,1010],"labelExpr":"datum.value % 5 == 0 ? datum.label : ''"}},"text":{"field":"lab"}}},
    {"data":{"values":[{"lab":"NBM"}]},"mark":{"type":"text","font":"Liberation Serif","fontSize":13,"fontWeight":"bold","align":"right","baseline":"alphabetic","color":"black"},"encoding":{"x":{"datum":93,"type":"quantitative","axis":{"title":"Time (h)","values":[0,6,12,18,24,30,36,42,48,54,60,66,72,78,84,90,96],"labelExpr":"datum.value % 12 == 0 ? datum.label : ''","labelOverlap":false}},"y":{"datum":1006.1,"type":"quantitative","axis":{"orient":"left","title":"Minimum sea level pressure (hPa)","format":"d","labelOverlap":false,"values":[955,957.5,960,962.5,965,967.5,970,972.5,975,977.5,980,982.5,985,987.5,990,992.5,995,997.5,1000,1002.5,1005,1007.5,1010],"labelExpr":"datum.value % 5 == 0 ? datum.label : ''"}},"text":{"field":"lab"}}}
  ]},
  {"transform":[{"filter":"(datum.p=='c'||datum.p=='o')&&(datum.s=='OW'||datum.s=='MW')"}],
   "mark":{"type":"line","strokeWidth":1},
   "encoding":{
    "x":{"field":"t","type":"quantitative","scale":{"domain":[0,96]},"axis":{"title":"Time (h)","values":[0,6,12,18,24,30,36,42,48,54,60,66,72,78,84,90,96],"labelExpr":"datum.value % 12 == 0 ? datum.label : ''","labelOverlap":false}},
    "y":{"field":"v","type":"quantitative","scale":{"domain":[15,50]},"axis":{"orient":"right","title":"Maximum sustained wind (m/s)","labelOverlap":false,"values":[15,17.5,20,22.5,25,27.5,30,32.5,35,37.5,40,42.5,45,47.5,50],"labelExpr":"datum.value % 5 == 0 ? datum.label : ''"}},
    "color":{"field":"s","type":"nominal","scale":{"domain":["OP","OW","MP","MW"],"range":["#b41e1e","#b41e1e","#3232c0","#3232c0"]},"legend":{"title":null,"legendX":41,"labelExpr":"{'OP':'Observed minimum sea level pressure','OW':'Observed maximum sustained wind','MP':'Modeled minimum sea level pressure','MW':'Modeled maximum sustained wind'}[datum.value]","encode":{"symbols":{"update":{"stroke":{"signal":"(datum.value=='OP'||datum.value=='OW')?'#b41e1e':'#3232c0'"},"strokeDash":{"signal":"(datum.value=='OW'||datum.value=='MW')?[7,5]:[1,0]"}}}}}},
    "strokeDash":{"field":"s","type":"nominal","scale":{"domain":["OP","OW","MP","MW"],"range":[[1,0],[7,5],[1,0],[7,5]]},"legend":null}}}
 ],
 "resolve":{"scale":{"y":"independent"}}},
{"width":288,"height":211,"data":{"name":"all"},
 "layer":[
  {"layer":[
    {"transform":[{"filter":"(datum.p=='b'||datum.p=='o')&&(datum.s=='OP'||datum.s=='MP')"}],
     "mark":{"type":"line","strokeWidth":1},
     "encoding":{
      "x":{"field":"t","type":"quantitative","scale":{"domain":[0,96]},"axis":{"title":"Hour (h)","values":[0,6,12,18,24,30,36,42,48,54,60,66,72,78,84,90,96],"labelExpr":"datum.value % 12 == 0 ? datum.label : ''","labelOverlap":false}},
      "y":{"field":"v","type":"quantitative","scale":{"domain":[955,1010]},"axis":{"orient":"left","title":"Minimum sea level pressure (hPa)","format":"d","labelOverlap":false,"values":[955,957.5,960,962.5,965,967.5,970,972.5,975,977.5,980,982.5,985,987.5,990,992.5,995,997.5,1000,1002.5,1005,1007.5,1010],"labelExpr":"datum.value % 5 == 0 ? datum.label : ''"}},
      "color":{"field":"s","type":"nominal","scale":{"domain":["OP","OW","MP","MW"],"range":["#b41e1e","#b41e1e","#3232c0","#3232c0"]},"legend":{"title":null,"legendX":43,"labelExpr":"{'OP':'Observed minimum sea level pressure','OW':'Observed maximum sustained wind','MP':'Modeled minimum sea level pressure','MW':'Modeled maximum sustained wind'}[datum.value]","encode":{"symbols":{"update":{"stroke":{"signal":"(datum.value=='OP'||datum.value=='OW')?'#b41e1e':'#3232c0'"},"strokeDash":{"signal":"(datum.value=='OW'||datum.value=='MW')?[7,5]:[1,0]"}}}}}},
      "strokeDash":{"field":"s","type":"nominal","scale":{"domain":["OP","OW","MP","MW"],"range":[[1,0],[7,5],[1,0],[7,5]]},"legend":null}}},
    {"data":{"values":[{"lab":"b"}]},"mark":{"type":"text","font":"Liberation Serif","fontSize":28,"fontWeight":"bold","align":"left","baseline":"alphabetic","color":"black"},"encoding":{"x":{"datum":3.8,"type":"quantitative","axis":{"title":"Hour (h)","values":[0,6,12,18,24,30,36,42,48,54,60,66,72,78,84,90,96],"labelExpr":"datum.value % 12 == 0 ? datum.label : ''","labelOverlap":false}},"y":{"datum":1005,"type":"quantitative","axis":{"orient":"left","title":"Minimum sea level pressure (hPa)","format":"d","labelOverlap":false,"values":[955,957.5,960,962.5,965,967.5,970,972.5,975,977.5,980,982.5,985,987.5,990,992.5,995,997.5,1000,1002.5,1005,1007.5,1010],"labelExpr":"datum.value % 5 == 0 ? datum.label : ''"}},"text":{"field":"lab"}}},
    {"data":{"values":[{"lab":"KF"}]},"mark":{"type":"text","font":"Liberation Serif","fontSize":13,"fontWeight":"bold","align":"right","baseline":"alphabetic","color":"black"},"encoding":{"x":{"datum":93,"type":"quantitative","axis":{"title":"Hour (h)","values":[0,6,12,18,24,30,36,42,48,54,60,66,72,78,84,90,96],"labelExpr":"datum.value % 12 == 0 ? datum.label : ''","labelOverlap":false}},"y":{"datum":1006.1,"type":"quantitative","axis":{"orient":"left","title":"Minimum sea level pressure (hPa)","format":"d","labelOverlap":false,"values":[955,957.5,960,962.5,965,967.5,970,972.5,975,977.5,980,982.5,985,987.5,990,992.5,995,997.5,1000,1002.5,1005,1007.5,1010],"labelExpr":"datum.value % 5 == 0 ? datum.label : ''"}},"text":{"field":"lab"}}}
  ]},
  {"transform":[{"filter":"(datum.p=='b'||datum.p=='o')&&(datum.s=='OW'||datum.s=='MW')"}],
   "mark":{"type":"line","strokeWidth":1},
   "encoding":{
    "x":{"field":"t","type":"quantitative","scale":{"domain":[0,96]},"axis":{"title":"Hour (h)","values":[0,6,12,18,24,30,36,42,48,54,60,66,72,78,84,90,96],"labelExpr":"datum.value % 12 == 0 ? datum.label : ''","labelOverlap":false}},
    "y":{"field":"v","type":"quantitative","scale":{"domain":[15,50]},"axis":{"orient":"right","title":"Maximum sustained wind (m/s)","labelOverlap":false,"values":[15,17.5,20,22.5,25,27.5,30,32.5,35,37.5,40,42.5,45,47.5,50],"labelExpr":"datum.value % 5 == 0 ? datum.label : ''"}},
    "color":{"field":"s","type":"nominal","scale":{"domain":["OP","OW","MP","MW"],"range":["#b41e1e","#b41e1e","#3232c0","#3232c0"]},"legend":{"title":null,"legendX":43,"labelExpr":"{'OP':'Observed minimum sea level pressure','OW':'Observed maximum sustained wind','MP':'Modeled minimum sea level pressure','MW':'Modeled maximum sustained wind'}[datum.value]","encode":{"symbols":{"update":{"stroke":{"signal":"(datum.value=='OP'||datum.value=='OW')?'#b41e1e':'#3232c0'"},"strokeDash":{"signal":"(datum.value=='OW'||datum.value=='MW')?[7,5]:[1,0]"}}}}}},
    "strokeDash":{"field":"s","type":"nominal","scale":{"domain":["OP","OW","MP","MW"],"range":[[1,0],[7,5],[1,0],[7,5]]},"legend":null}}}
 ],
 "resolve":{"scale":{"y":"independent"}}},
{"width":289,"height":209,"data":{"name":"all"},
 "layer":[
  {"layer":[
    {"transform":[{"filter":"(datum.p=='d'||datum.p=='o')&&(datum.s=='OP'||datum.s=='MP')"}],
     "mark":{"type":"line","strokeWidth":1},
     "encoding":{
      "x":{"field":"t","type":"quantitative","scale":{"domain":[0,96]},"axis":{"title":"Time (h)","values":[0,6,12,18,24,30,36,42,48,54,60,66,72,78,84,90,96],"labelExpr":"datum.value % 12 == 0 ? datum.label : ''","labelOverlap":false}},
      "y":{"field":"v","type":"quantitative","scale":{"domain":[955,1010]},"axis":{"orient":"left","title":"Minimum sea level pressure (hPa)","format":"d","labelOverlap":false,"values":[955,957.5,960,962.5,965,967.5,970,972.5,975,977.5,980,982.5,985,987.5,990,992.5,995,997.5,1000,1002.5,1005,1007.5,1010],"labelExpr":"datum.value % 5 == 0 ? datum.label : ''"}},
      "color":{"field":"s","type":"nominal","scale":{"domain":["OP","OW","MP","MW"],"range":["#b41e1e","#b41e1e","#3232c0","#3232c0"]},"legend":{"title":null,"legendX":41,"labelExpr":"{'OP':'Observed minimum sea level pressure','OW':'Observed maximum sustained wind','MP':'Modeled minimum sea level pressure','MW':'Modeled maximum sustained wind'}[datum.value]","encode":{"symbols":{"update":{"stroke":{"signal":"(datum.value=='OP'||datum.value=='OW')?'#b41e1e':'#3232c0'"},"strokeDash":{"signal":"(datum.value=='OW'||datum.value=='MW')?[7,5]:[1,0]"}}}}}},
      "strokeDash":{"field":"s","type":"nominal","scale":{"domain":["OP","OW","MP","MW"],"range":[[1,0],[7,5],[1,0],[7,5]]},"legend":null}}},
    {"data":{"values":[{"lab":"d"}]},"mark":{"type":"text","font":"Liberation Serif","fontSize":28,"fontWeight":"bold","align":"left","baseline":"alphabetic","color":"black"},"encoding":{"x":{"datum":1.2,"type":"quantitative","axis":{"title":"Time (h)","values":[0,6,12,18,24,30,36,42,48,54,60,66,72,78,84,90,96],"labelExpr":"datum.value % 12 == 0 ? datum.label : ''","labelOverlap":false}},"y":{"datum":1005,"type":"quantitative","axis":{"orient":"left","title":"Minimum sea level pressure (hPa)","format":"d","labelOverlap":false,"values":[955,957.5,960,962.5,965,967.5,970,972.5,975,977.5,980,982.5,985,987.5,990,992.5,995,997.5,1000,1002.5,1005,1007.5,1010],"labelExpr":"datum.value % 5 == 0 ? datum.label : ''"}},"text":{"field":"lab"}}},
    {"data":{"values":[{"lab":"BM"}]},"mark":{"type":"text","font":"Liberation Serif","fontSize":13,"fontWeight":"bold","align":"right","baseline":"alphabetic","color":"black"},"encoding":{"x":{"datum":93,"type":"quantitative","axis":{"title":"Time (h)","values":[0,6,12,18,24,30,36,42,48,54,60,66,72,78,84,90,96],"labelExpr":"datum.value % 12 == 0 ? datum.label : ''","labelOverlap":false}},"y":{"datum":1006.1,"type":"quantitative","axis":{"orient":"left","title":"Minimum sea level pressure (hPa)","format":"d","labelOverlap":false,"values":[955,957.5,960,962.5,965,967.5,970,972.5,975,977.5,980,982.5,985,987.5,990,992.5,995,997.5,1000,1002.5,1005,1007.5,1010],"labelExpr":"datum.value % 5 == 0 ? datum.label : ''"}},"text":{"field":"lab"}}}
  ]},
  {"transform":[{"filter":"(datum.p=='d'||datum.p=='o')&&(datum.s=='OW'||datum.s=='MW')"}],
   "mark":{"type":"line","strokeWidth":1},
   "encoding":{
    "x":{"field":"t","type":"quantitative","scale":{"domain":[0,96]},"axis":{"title":"Time (h)","values":[0,6,12,18,24,30,36,42,48,54,60,66,72,78,84,90,96],"labelExpr":"datum.value % 12 == 0 ? datum.label : ''","labelOverlap":false}},
    "y":{"field":"v","type":"quantitative","scale":{"domain":[15,50]},"axis":{"orient":"right","title":"Maximum sustained wind (m/s)","labelOverlap":false,"values":[15,17.5,20,22.5,25,27.5,30,32.5,35,37.5,40,42.5,45,47.5,50],"labelExpr":"datum.value % 5 == 0 ? datum.label : ''"}},
    "color":{"field":"s","type":"nominal","scale":{"domain":["OP","OW","MP","MW"],"range":["#b41e1e","#b41e1e","#3232c0","#3232c0"]},"legend":{"title":null,"legendX":41,"labelExpr":"{'OP':'Observed minimum sea level pressure','OW':'Observed maximum sustained wind','MP':'Modeled minimum sea level pressure','MW':'Modeled maximum sustained wind'}[datum.value]","encode":{"symbols":{"update":{"stroke":{"signal":"(datum.value=='OP'||datum.value=='OW')?'#b41e1e':'#3232c0'"},"strokeDash":{"signal":"(datum.value=='OW'||datum.value=='MW')?[7,5]:[1,0]"}}}}}},
    "strokeDash":{"field":"s","type":"nominal","scale":{"domain":["OP","OW","MP","MW"],"range":[[1,0],[7,5],[1,0],[7,5]]},"legend":null}}}
 ],
 "resolve":{"scale":{"y":"independent"}}}
],
"config":{
 "font":"Liberation Serif",
 "view":{"stroke":"black","strokeWidth":1.5},
 "axis":{"grid":false,"domainColor":"black","domainWidth":1.5,"tickColor":"black","tickSize":-4,"labelFont":"Liberation Serif","labelFontStyle":"italic","labelFontSize":14,"labelColor":"black","labelFlush":false,"labelOverlap":false,"labelPadding":4,"titleFont":"Liberation Serif","titleFontWeight":"bold","titleFontSize":12.5,"titleColor":"black","titlePadding":2},
 "axisX":{"titlePadding":0},
 "axisLeft":{"labelPadding":5},
 "axisRight":{"titlePadding":7},
 "legend":{"orient":"none","legendY":-51.5,"direction":"vertical","symbolType":"M-5,0H5","symbolSize":121,"symbolStrokeWidth":1,"labelFont":"Liberation Serif","labelFontStyle":"italic","labelFontSize":11,"labelColor":"black","labelOffset":29,"labelLimit":0,"rowPadding":0}
}
}
